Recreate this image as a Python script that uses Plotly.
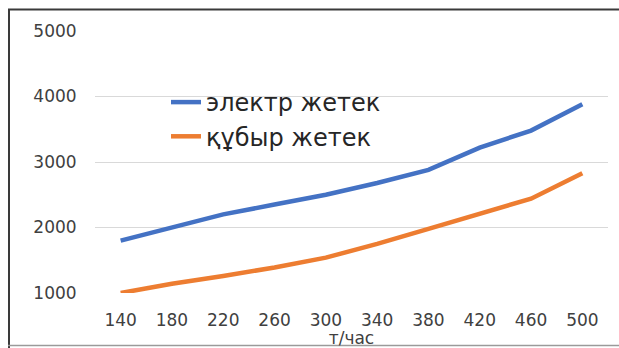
import plotly.graph_objects as go

# throughput categories, t/h
capacity = ["140", "180", "220", "260", "300", "340", "380", "420", "460", "500"]
electric_drive = [1800, 2000, 2200, 2350, 2500, 2680, 2880, 3220, 3480, 3880]
pipe_drive = [1000, 1140, 1260, 1390, 1540, 1750, 1980, 2210, 2440, 2830]

y_ticks = [1000, 2000, 3000, 4000, 5000]

W, H = 619, 348
L, R, T, B = 95, 11, 31, 55
pw, ph = W - L - R, H - T - B


def px_x(p):
    return (p - L) / pw


def px_y(p):
    return (H - B - p) / ph


fig = go.Figure()
fig.add_trace(go.Scatter(x=capacity, y=electric_drive, mode="lines",
                         name="электр жетек",
                         line=dict(color="#4472C4", width=4.5)))
fig.add_trace(go.Scatter(x=capacity, y=pipe_drive, mode="lines",
                         name="құбыр жетек",
                         line=dict(color="#ED7D31", width=4.5)))

shapes = [
    # white patch behind the legend
    dict(type="rect", xref="paper", yref="paper", layer="below",
         x0=px_x(139), x1=px_x(410), y0=px_y(150), y1=px_y(84),
         fillcolor="white", line=dict(width=0)),
    # chart frame
    dict(type="line", xref="paper", yref="paper",
         x0=px_x(9), x1=px_x(9), y0=px_y(9), y1=px_y(348),
         line=dict(color="#3a3a3a", width=2)),
    dict(type="line", xref="paper", yref="paper",
         x0=px_x(8), x1=px_x(625), y0=px_y(9.5), y1=px_y(9.5),
         line=dict(color="#3a3a3a", width=2)),
    dict(type="line", xref="paper", yref="paper",
         x0=px_x(8), x1=px_x(625), y0=px_y(345.5), y1=px_y(345.5),
         line=dict(color="#9a9a9a", width=1.5)),
]

fig.update_layout(
    width=W, height=H,
    margin=dict(l=L, r=R, t=T, b=B, autoexpand=False),
    paper_bgcolor="white", plot_bgcolor="white",
    font=dict(family="DejaVu Sans", color="#404040"),
    shapes=shapes,
    showlegend=True,
    legend=dict(x=px_x(166), y=px_y(80), xanchor="left", yanchor="top",
                bgcolor="rgba(0,0,0,0)",
                font=dict(size=24, color="#262626", family="DejaVu Sans"),
                tracegroupgap=0),
    xaxis=dict(type="category", range=[-0.5, 9.5], automargin=False,
               showgrid=False, showline=False, zeroline=False,
               ticks="outside", ticklen=12, tickcolor="rgba(0,0,0,0)",
               tickfont=dict(size=17, color="#404040"),
               title=dict(text="т/час", font=dict(size=17, color="#404040"),
                          standoff=6)),
    yaxis=dict(range=[1000, 5000], tickvals=y_ticks, automargin=False,
               showgrid=True, gridcolor="#d9d9d9", gridwidth=1,
               zeroline=False, showline=False,
               ticks="outside", ticklen=14, tickcolor="rgba(0,0,0,0)",
               tickfont=dict(size=17, color="#404040")),
)

fig.write_html("out.html")
